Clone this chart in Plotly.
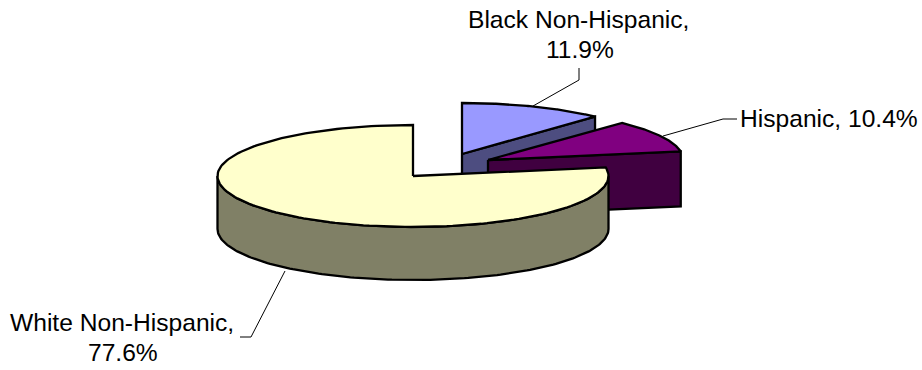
import numpy as np
import plotly.graph_objects as go

# Population shares, clockwise from twelve o'clock
groups = ["Black Non-Hispanic", "Hispanic", "White Non-Hispanic"]
shares = [11.9, 10.4, 77.6]

top_colors = ["#9999ff", "#800080", "#ffffcc"]
side_colors = ["#4d4d80", "#400040", "#808066"]

# Tilted disc geometry in page pixels
RX, RY = 195.5, 51
depths = [53, 55, 53]
centers = [(462, 154), (488, 160), (413, 176)]
OUTLINE = dict(color="#000000", width=2.3)
LABEL_FONT = dict(family="Liberation Sans, Arial, sans-serif", size=24.6, color="#000000")


def rim(cx, cy, start, stop, drop=0):
    # Points on the elliptical rim, angles in degrees clockwise from the top
    a = np.radians(np.linspace(start, stop, 160))
    return cx + RX * np.sin(a), cy - RY * np.cos(a) + drop


def patch(xs, ys, color):
    return go.Scatter(x=np.append(xs, xs[0]), y=np.append(ys, ys[0]), mode="lines",
                      fill="toself", fillcolor=color, line=OUTLINE,
                      hoverinfo="skip", showlegend=False)


def leader(xs, ys):
    return go.Scatter(x=xs, y=ys, mode="lines", line=dict(color="#000000", width=1),
                      hoverinfo="skip", showlegend=False)


def caption(x, y, text):
    return dict(x=x, y=y, xref="x", yref="y", text=text, showarrow=False,
                xanchor="center", yanchor="middle", font=LABEL_FONT)


fig = go.Figure()

# Leader lines sit behind the slices
fig.add_trace(leader([533, 579, 579], [106, 80, 68]))
fig.add_trace(leader([663, 723, 737], [136, 119, 119]))
fig.add_trace(leader([285, 251, 240], [271, 337, 337]))

edges = np.concatenate([[0], np.cumsum(shares) / sum(shares) * 360])

# Back slices first, so the large slice overlaps them
for i in (0, 1):
    cx, cy = centers[i]
    x_arc, y_arc = rim(cx, cy, edges[i], edges[i + 1])
    # Cut face running from the apex out to the closing edge of the slice
    fig.add_trace(patch(np.array([cx, x_arc[-1], x_arc[-1], cx]),
                        np.array([cy, y_arc[-1], y_arc[-1] + depths[i], cy + depths[i]]),
                        side_colors[i]))
    fig.add_trace(patch(np.concatenate([[cx], x_arc]),
                        np.concatenate([[cy], y_arc]), top_colors[i]))

# Large slice: outer wall along the front half, then the top face
cx, cy = centers[2]
x_top, y_top = rim(cx, cy, 90, 270)
x_low, y_low = rim(cx, cy, 270, 90, depths[2])
fig.add_trace(patch(np.concatenate([x_top, x_low]),
                    np.concatenate([y_top, y_low]), side_colors[2]))
x_arc, y_arc = rim(cx, cy, edges[2], edges[3])
fig.add_trace(patch(np.concatenate([[cx], x_arc]),
                    np.concatenate([[cy], y_arc]), top_colors[2]))

annotations = [
    caption(578.5, 19.5, f"{groups[0]},"),
    caption(579.5, 49.5, f"{shares[0]}%"),
    caption(828.5, 118.5, f"{groups[1]}, {shares[1]}%"),
    caption(121.5, 322, f"{groups[2]},"),
    caption(122.5, 352, f"{shares[2]}%"),
]

fig.update_layout(
    width=922, height=370, margin=dict(l=0, r=0, t=0, b=0),
    paper_bgcolor="#ffffff", plot_bgcolor="#ffffff",
    xaxis=dict(range=[0, 922], visible=False, fixedrange=True),
    yaxis=dict(range=[370, 0], visible=False, fixedrange=True),
    annotations=annotations,
)

fig.write_html("out.html", config={"displayModeBar": False})
